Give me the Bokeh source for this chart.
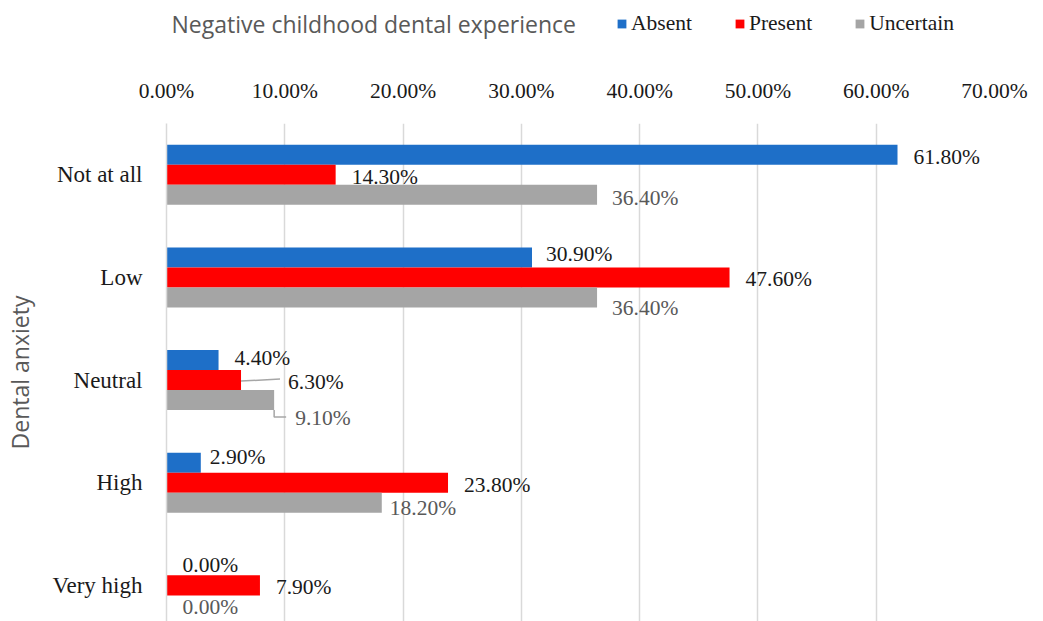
from bokeh.plotting import figure
from bokeh.layouts import column
from bokeh.models import (ColumnDataSource, Range1d, FixedTicker,
                          PrintfTickFormatter, Legend, LegendItem, Label)
from bokeh.core.properties import value
from bokeh.embed import file_html
from bokeh.resources import INLINE

# ---------------- data ----------------
categories = ["Not at all", "Low", "Neutral", "High", "Very high"]
series = ["Absent", "Present", "Uncertain"]
absent = [61.8, 30.9, 4.4, 2.9, 0.0]
present = [14.3, 47.6, 6.3, 23.8, 7.9]
uncertain = [36.4, 36.4, 9.1, 18.2, 0.0]
x_ticks = [0, 10, 20, 30, 40, 50, 60, 70]
legend_title = "Negative childhood dental experience"
y_title = "Dental anxiety"

colors = {"Absent": "#1E6FC8", "Present": "#FF0000", "Uncertain": "#A5A5A5"}
label_colors = {"Absent": "#1a1a1a", "Present": "#1a1a1a", "Uncertain": "#595959"}

# manual label nudges (pixels): (gap from bar end, vertical shift)
nudges = {
    ("Uncertain", 0): (15, 3),
    ("Absent", 1): (14, -3),
    ("Uncertain", 1): (15, 11),
    ("Absent", 2): (16, -2),
    ("Present", 2): (47, 2),
    ("Uncertain", 2): (21, 18),
    ("Absent", 3): (9, -6),
    ("Uncertain", 3): (8, 5),
    ("Absent", 4): (16, 0),
}

SERIF = "Liberation Serif"
SANS = "Open Sans"

W, H = 1043, 621
HEAD = 50                     # height of the legend header strip
FL, FR, FT = 166, 994, 123    # frame edges in page pixels

values = {"Absent": absent, "Present": present, "Uncertain": uncertain}

# ---------------- header with the legend ----------------
# (its frame is aligned with the main chart's frame by the column layout)
hdr = figure(width=W, height=HEAD, output_backend="svg", toolbar_location=None,
             x_range=Range1d(0, 70), y_range=Range1d(0, 1),
             x_axis_location=None, y_axis_location=None,
             min_border_left=FL, min_border_right=W - FR,
             min_border_top=0, min_border_bottom=0, outline_line_color=None,
             background_fill_color="white", border_fill_color="white")
hdr.xgrid.visible = False
hdr.ygrid.visible = False
key_renderers = []
for s in series:
    # hidden renderers that only feed the legend keys
    ksrc = ColumnDataSource(dict(y=[-1000] * len(categories), v=values[s]))
    kr = hdr.hbar(y="y", right="v", left=0, height=0.5, source=ksrc,
                  fill_color=colors[s], line_color=None)
    kr.visible = False
    key_renderers.append(kr)

legend = Legend(
    items=[LegendItem(label=s, renderers=[kr]) for s, kr in zip(series, key_renderers)],
    orientation="horizontal",
    label_text_font=SERIF, label_text_font_size="21.5px",
    label_text_color="#1a1a1a",
    glyph_width=11, glyph_height=11, label_standoff=4, spacing=42,
    padding=0, margin=0, border_line_color=None, background_fill_alpha=0,
    inactive_fill_alpha=0,
    location=(616 - FL, HEAD - 36),
)
hdr.add_layout(legend)
hdr.add_layout(Label(x=171 - FL, y=HEAD - 23, x_units="screen", y_units="screen",
                     text=legend_title, text_font=SANS, text_font_size="23px",
                     text_color="#595959", text_baseline="middle",
                     text_align="left"))

# ---------------- main chart ----------------
p = figure(width=W, height=H - HEAD, output_backend="svg", toolbar_location=None,
           x_range=Range1d(0, 70), y_range=Range1d(4.352, -0.5),
           x_axis_location="above", min_border_left=FL, min_border_right=W - FR,
           min_border_top=FT - HEAD, min_border_bottom=0, outline_line_color=None,
           background_fill_color="white", border_fill_color="white")

bar_h = 0.195
offsets = {"Absent": -bar_h, "Present": 0.0, "Uncertain": bar_h}

for s in series:
    ys = [i + offsets[s] for i in range(len(categories))]
    vals = values[s]
    dxs, dys = [], []
    for i in range(len(categories)):
        dx, dy = nudges.get((s, i), (16, 2))
        dxs.append(dx)
        dys.append(dy)
    src = ColumnDataSource(dict(
        y=ys, v=vals, lab=["%.2f%%" % v for v in vals], dx=dxs, dy=dys))
    p.hbar(y="y", right="v", left=0, height=bar_h, source=src,
           fill_color=colors[s], line_color=None)
    p.text(x="v", y="y", text="lab", source=src, x_offset="dx", y_offset="dy",
           text_font=value(SERIF), text_font_size="21.5px",
           text_color=label_colors[s], text_baseline="middle", text_align="left")

# leader lines for the repositioned Neutral labels
px_per_pct = (FR - FL) / 70.0
px_per_unit = (H - FT) / 4.852
i_neu = 2
y_red = i_neu + offsets["Present"]
p.segment(x0=[present[i_neu]], y0=[y_red + 1 / px_per_unit],
          x1=[present[i_neu] + 39 / px_per_pct], y1=[y_red - 1 / px_per_unit],
          line_color="#A6A6A6", line_width=1.5)
y_gr = i_neu + offsets["Uncertain"]
p.line(x=[uncertain[i_neu], uncertain[i_neu], uncertain[i_neu] + 12 / px_per_pct],
       y=[y_gr + bar_h / 2, y_gr + 17 / px_per_unit, y_gr + 17 / px_per_unit],
       line_color="#A6A6A6", line_width=1.5)

# top axis
xa = p.xaxis[0]
xa.ticker = FixedTicker(ticks=x_ticks)
xa.formatter = PrintfTickFormatter(format="%.2f%%")
xa.axis_line_color = None
xa.major_tick_line_color = None
xa.minor_tick_line_color = None
xa.major_tick_out = 0
xa.minor_tick_out = 0
xa.major_label_text_font = SERIF
xa.major_label_text_font_size = "21.5px"
xa.major_label_text_color = "#1a1a1a"
xa.major_label_standoff = 21

p.xgrid.grid_line_color = "#D9D9D9"
p.xgrid.grid_line_width = 1.5
p.ygrid.grid_line_color = None

# left axis
ya = p.yaxis[0]
ya.ticker = FixedTicker(ticks=list(range(len(categories))))
ya.major_label_overrides = {i: c for i, c in enumerate(categories)}
ya.axis_line_color = "#D9D9D9"
ya.axis_line_width = 1.5
ya.major_tick_line_color = None
ya.minor_tick_line_color = None
ya.major_tick_out = 0
ya.minor_tick_out = 0
ya.major_label_text_font = SERIF
ya.major_label_text_font_size = "23px"
ya.major_label_text_color = "#1a1a1a"
ya.major_label_standoff = 24
ya.axis_label = y_title
ya.axis_label_text_font = SANS
ya.axis_label_text_font_size = "23px"
ya.axis_label_text_font_style = "normal"
ya.axis_label_text_color = "#595959"
ya.axis_label_standoff = 13

layout = column(hdr, p, spacing=0)
open("out.html", "w").write(file_html(layout, INLINE))
